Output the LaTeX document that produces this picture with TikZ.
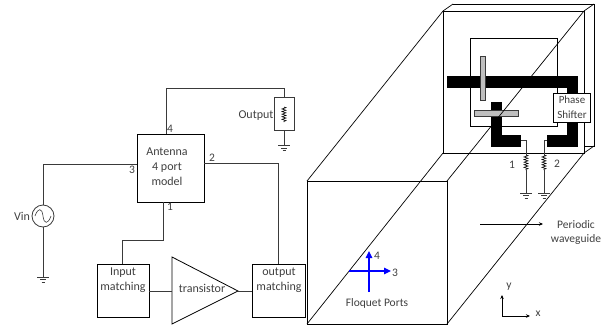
\documentclass[tikz,border=0pt]{standalone}
\usepackage{fontspec}
\setmainfont{Carlito}
\usetikzlibrary{arrows.meta,decorations.pathmorphing}
\definecolor{txt}{HTML}{404040}
\definecolor{pad}{HTML}{BFBFBF}
\definecolor{wire}{HTML}{3A3A3A}
\tikzset{
  blockbox/.style={draw=black,line width=.8pt,fill=white,inner sep=0pt},
  wire/.style={draw=wire,line width=.8pt},
  edge3d/.style={draw=black,line width=.7pt},
  lbl/.style={text=txt,inner sep=0pt,font=\fontsize{11.5}{14}\selectfont,align=center},
  blocktxt/.style={text=txt,inner sep=0pt,font=\fontsize{12}{15}\selectfont,align=center},
  metal/.style={fill=black,draw=none},
  bar/.style={fill=pad,draw=wire,line width=.6pt},
  arr/.style={draw=black,line width=.7pt,-{Stealth[length=4pt,width=3.5pt]}},
  blue arr/.style={draw=blue,line width=1.1pt,-{Triangle[length=7pt,width=6.5pt]}},
  res/.style={draw=black,line width=.6pt,decorate,decoration={zigzag,segment length=2.6pt,amplitude=2pt}}
}
\newcommand{\gnd}[1]{\draw[wire,line width=.7pt] (#1) ++(-6,0) -- ++(12,0) ++(-9,2.5) -- ++(6,0) ++(-4.5,2.5) -- ++(3,0);}
\begin{document}
\begin{tikzpicture}[x=1pt,y=-1pt]
\useasboundingbox (0,0) rectangle (602,329);
% back face
\draw[edge3d] (453,4) -- (594,4) -- (594,146) -- (584,146);
\draw[edge3d] (443,11) -- (453,4);
\draw[edge3d] (584,11) -- (594,4);
\draw[edge3d] (584,153) -- (594,146);
\draw[edge3d] (443,11) rectangle (584,153);
% inner patch
\draw[draw=black,line width=.7pt] (470,38) rectangle (557,126);
% metal
\fill[metal] (447,76) rectangle (578,88);
\fill[metal] (567,76) rectangle (578,147);
\fill[metal] (547,135) rectangle (578,147);
\fill[metal] (491,102) rectangle (502,147);
\fill[metal] (491,135) rectangle (521,147);
\filldraw[bar] (480,56.5) rectangle (485.5,100);
\filldraw[bar] (474.5,110.5) rectangle (518,116.5);
% box edges
\draw[edge3d] (307,181) rectangle (447,324);
\draw[edge3d] (307,181) -- (443,11);
\draw[edge3d] (447,181) -- (584,11);
\draw[edge3d] (447,324) -- (584,153);
\draw[edge3d] (307,324) -- (443,153);
\node[blockbox,line width=.7pt,minimum width=37pt,minimum height=29pt,text=txt,align=center,font=\fontsize{11}{15}\selectfont] (ps) at (572,107.5) {Phase\\Shifter};
% resistors
\coordinate (r1a) at (521,140.5);
\coordinate (r2a) at (547,140.5);
\draw[wire,line width=.6pt] (r1a) -- (526,140.5) -- (526,155);
\draw[res] (526,155) -- (526,170);
\draw[wire,line width=.6pt] (526,170) -- (526,193);
\gnd{526,193}
\draw[wire,line width=.6pt] (r2a) -- (544,140.5) -- (544,155);
\draw[res] (544,155) -- (544,170);
\draw[wire,line width=.6pt] (544,170) -- (544,193);
\gnd{544,193}
\node[lbl] (l1) at (512,165) {1};
\node[lbl] (l2) at (557,164) {2};
% waveguide labels
\coordinate (pa) at (480,224);
\coordinate (pb) at (543,224);
\draw[arr] (pa) -- (pb);
\node[lbl] (pw) at (576,232) {Periodic\\waveguide};
% floquet
\coordinate (b1) at (349,271);
\coordinate (b2) at (391,271);
\coordinate (b3) at (369,292);
\coordinate (b4) at (369,251);
\draw[blue arr] (b1) -- (b2);
\draw[blue arr] (b3) -- (b4);
\node[lbl] (p3) at (395,273) {3};
\node[lbl] (p4) at (377,256) {4};
\node[lbl] (fp) at (377,303) {Floquet Ports};
% xy
\coordinate (o) at (502,316);
\coordinate (ox) at (530,316);
\coordinate (oy) at (502,295);
\draw[arr] (o) -- (ox);
\draw[arr] (o) -- (oy);
\node[lbl] (lx) at (538,314) {x};
\node[lbl] (ly) at (509,287) {y};
% circuit
\node[blockbox,minimum width=67pt,minimum height=68pt] (ant) at (170.5,168) {};
\node[blocktxt] (anttxt) at (167,167) {Antenna\\4 port\\model};
\node[blockbox,minimum width=52pt,minimum height=53pt] (inm) at (123,290.5) {};
\node[blocktxt] (intxt) at (123,280.5) {Input\\matching};
\node[blockbox,minimum width=53pt,minimum height=53pt] (outm) at (278.5,290.5) {};
\node[blocktxt] (outtxt) at (279,280.5) {output\\matching};
\path[draw=black,line width=.8pt,fill=white] (172,257) -- (172,324) -- (238,291) -- cycle;
\node[blocktxt] (tr) at (202,288) {transistor};
\coordinate (trin) at (172,291);
\coordinate (trout) at (238,291);
\draw[wire] (inm.east |- trin) -- (trin);
\draw[wire] (trout) -- (outm.west |- trout);
\coordinate (w4) at (166,134);
\draw[wire] (w4) -- (166,88) -- (284,88) -- (284,97);
\node[lbl] (a4) at (170,129) {4};
\node[lbl] (a2) at (212,158) {2};
\node[lbl] (a3) at (132,170) {3};
\node[lbl] (a1) at (170,207) {1};
\draw[wire] (204,163.5) -- (278,163.5) -- (278,264);
\draw[wire] (137,164) -- (43,164) -- (43,205);
\draw[wire] (43,227) -- (43,277);
\gnd{43,277}
\draw[line width=.8pt,draw=wire] (43,216) circle (11);
\draw[line width=.6pt,draw=wire] (35,216) .. controls (38,207.5) and (42,207.5) .. (43,216) .. controls (44,224.5) and (48,224.5) .. (51,216);
\node[blocktxt] (vin) at (22,216) {Vin};
\draw[wire] (163,202) -- (163,240) -- (122,240) -- (122,264);
% output
\draw[wire] (274.5,97) rectangle (294.5,130);
\draw[wire] (284,130) -- (284,145);
\draw[res] (284,107) -- (284,122);
\gnd{284,145.5}
\node[blocktxt] (out) at (256,116) {Output};
\end{tikzpicture}
\end{document}
